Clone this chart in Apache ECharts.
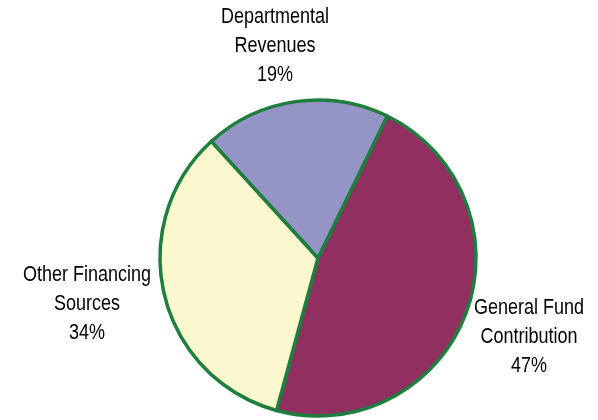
<!DOCTYPE html>
<html>
<head>
<meta charset="utf-8">
<script src="https://cdn.jsdelivr.net/npm/echarts@6/dist/echarts.min.js"></script>
<style>
  html, body { margin: 0; padding: 0; background: #ffffff; }
  #chart { width: 598px; height: 420px; }
</style>
</head>
<body>
<div id="chart"></div>
<script>
// Funding sources, in clockwise order from the top-right boundary
const categories = ['General Fund\nContribution', 'Other Financing\nSources', 'Departmental\nRevenues'];
const shares = [47, 34, 19];
const sliceColors = ['#913060', '#fbf8d0', '#9494c6'];

// Where each label block is centred
const labelSpots = [
  { x: 529, y: 337 },
  { x: 87, y: 304 },
  { x: 275, y: 46 }
];

// Labels use a tall, narrow face: regular sans stretched vertically
const LABEL_STRETCH = 1.18;

const chart = echarts.init(document.getElementById('chart'), null, { renderer: 'canvas' });

chart.setOption({
  animation: false,
  backgroundColor: '#ffffff',
  series: [{
    type: 'pie',
    center: [318, 258],
    radius: 158,
    startAngle: 64,
    clockwise: true,
    avoidLabelOverlap: false,
    data: categories.map((name, i) => ({
      name: name,
      value: shares[i],
      itemStyle: { color: sliceColors[i] }
    })),
    itemStyle: { borderColor: '#1e7e3e', borderWidth: 3.5 },
    emphasis: { disabled: true },
    label: {
      show: true,
      position: 'outside',
      formatter: (p) => p.name + '\n' + p.value + '%',
      fontFamily: '"Liberation Sans", Arial, sans-serif',
      fontSize: 18,
      lineHeight: 24.3,
      color: '#000000',
      align: 'center',
      overflow: 'none',
      width: 200
    },
    labelLine: { show: false },
    labelLayout: (params) => {
      const spot = labelSpots[params.dataIndex];
      return { x: spot.x, y: spot.y, align: 'center', verticalAlign: 'middle' };
    }
  }]
});

// Stretch each label vertically about its anchor point
const pieData = chart.getModel().getSeriesByIndex(0).getData();
pieData.each((idx) => {
  const sector = pieData.getItemGraphicEl(idx);
  const text = sector && sector.getTextContent && sector.getTextContent();
  if (text) {
    text.scaleY = LABEL_STRETCH;
    text.markRedraw();
  }
});
chart.getZr().refreshImmediately();
</script>
</body>
</html>
